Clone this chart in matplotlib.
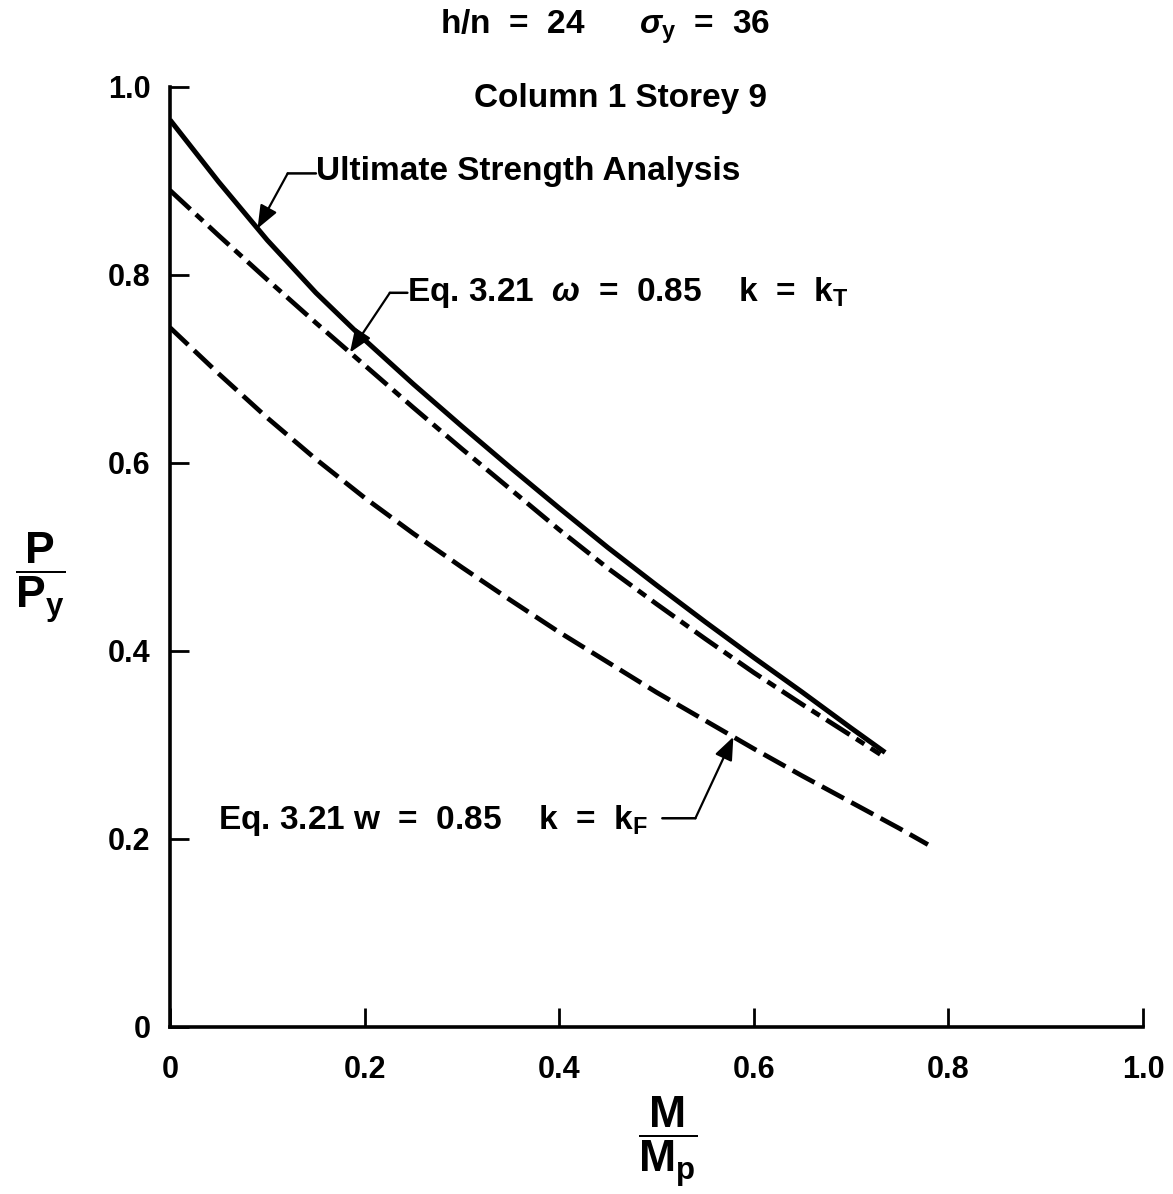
import numpy as np
import matplotlib
matplotlib.use("Agg")
import matplotlib.pyplot as plt

# Interaction curves: axial load ratio P/Py against moment ratio M/Mp
ultimate_x = [0.0, 0.05, 0.1, 0.15, 0.2, 0.25, 0.3, 0.35, 0.4, 0.45,
              0.5, 0.55, 0.6, 0.65, 0.7, 0.735]
ultimate_y = [0.965, 0.899, 0.837, 0.781, 0.731, 0.684, 0.639, 0.595, 0.552,
              0.510, 0.470, 0.431, 0.393, 0.356, 0.318, 0.292]

eq_kt_x = [0.0, 0.05, 0.1, 0.15, 0.2, 0.25, 0.3, 0.35, 0.4, 0.45,
           0.5, 0.55, 0.6, 0.65, 0.7, 0.73]
eq_kt_y = [0.890, 0.842, 0.795, 0.749, 0.704, 0.659, 0.615, 0.572, 0.529,
           0.488, 0.450, 0.413, 0.377, 0.343, 0.310, 0.290]

eq_kf_x = [0.0, 0.05, 0.1, 0.15, 0.2, 0.25, 0.3, 0.35, 0.4, 0.45,
           0.5, 0.55, 0.6, 0.65, 0.7, 0.75, 0.779]
eq_kf_y = [0.744, 0.695, 0.648, 0.604, 0.563, 0.525, 0.489, 0.454, 0.420,
           0.388, 0.356, 0.326, 0.296, 0.267, 0.239, 0.211, 0.194]

x_ticks = [0, 0.2, 0.4, 0.6, 0.8, 1.0]
x_tick_labels = ["0", "0.2", "0.4", "0.6", "0.8", "1.0"]
y_ticks = [0, 0.2, 0.4, 0.6, 0.8, 1.0]
y_tick_labels = ["0", "0.2", "0.4", "0.6", "0.8", "1.0"]

plt.rcParams["font.family"] = ["Liberation Sans", "DejaVu Sans"]
plt.rcParams["font.weight"] = "bold"
plt.rcParams["mathtext.fontset"] = "custom"
plt.rcParams["mathtext.rm"] = "Liberation Sans:bold"
plt.rcParams["mathtext.it"] = "Liberation Sans:italic:bold"
plt.rcParams["mathtext.bf"] = "Liberation Sans:bold"
plt.rcParams["lines.scale_dashes"] = False

fig = plt.figure(figsize=(11.73, 11.94), dpi=100)
ax = fig.add_axes([0.1449, 0.1399, 0.8295, 0.7873])
ax.set_xlim(0, 1.0)
ax.set_ylim(0, 1.0)

ink = "black"
ax.plot(ultimate_x, ultimate_y, color=ink, lw=3.6, solid_capstyle="butt",
        solid_joinstyle="round")
ax.plot(eq_kt_x, eq_kt_y, color=ink, lw=3.4,
        linestyle=(0, (20, 5.5, 7, 5.5)), dash_capstyle="butt")
ax.plot(eq_kf_x, eq_kf_y, color=ink, lw=3.4,
        linestyle=(0, (18, 6)), dash_capstyle="butt")

# Axes frame: only left and bottom lines, inward ticks
for side in ("top", "right"):
    ax.spines[side].set_visible(False)
for side in ("left", "bottom"):
    ax.spines[side].set_linewidth(2.6)
ax.set_xticks(x_ticks)
ax.set_xticklabels(x_tick_labels)
ax.set_yticks(y_ticks)
ax.set_yticklabels(y_tick_labels)
ax.tick_params(direction="in", length=14, width=2.0, labelsize=22)
ax.tick_params(axis="x", pad=20)
ax.tick_params(axis="y", pad=14)
ax.set_facecolor("white")

# Labels with leader lines and arrows
fs = 24
arrow = dict(arrowstyle="-|>,head_length=0.7,head_width=0.28",
             color=ink, lw=1.6, mutation_scale=20, shrinkA=0, shrinkB=0)
leader = dict(arrowstyle="-", color=ink, lw=1.8, shrinkA=0, shrinkB=0)


def pointer(text, text_xy, elbow_xy, tip_x, curve_x, curve_y):
    tip = (tip_x, float(np.interp(tip_x, curve_x, curve_y)))
    ax.text(text_xy[0], text_xy[1], text, fontsize=fs, ha="left", va="center")
    ax.annotate("", xy=elbow_xy, xytext=(text_xy[0], elbow_xy[1]),
                arrowprops=leader)
    ax.annotate("", xy=tip, xytext=elbow_xy, arrowprops=arrow)


pointer("Ultimate Strength Analysis", (0.150, 0.910), (0.121, 0.908),
        0.090, ultimate_x, ultimate_y)

pointer(r"Eq. 3.21  $\omega$  =  0.85    k  =  k$_{\mathrm{T}}$",
        (0.244, 0.781), (0.226, 0.781), 0.185, eq_kt_x, eq_kt_y)

ax.text(0.049, 0.220, r"Eq. 3.21 w  =  0.85    k  =  k$_{\mathrm{F}}$",
        fontsize=fs, ha="left", va="center")
ax.annotate("", xy=(0.540, 0.222), xytext=(0.506, 0.222), arrowprops=leader)
kf_tip = (0.579, float(np.interp(0.579, eq_kf_x, eq_kf_y)))
ax.annotate("", xy=kf_tip, xytext=(0.540, 0.222), arrowprops=arrow)

# Header lines
fig.text(605 / 1173, 1 - 27 / 1194,
         r"h/n  =  24      $\sigma_{\mathrm{y}}$  =  36",
         fontsize=fs, ha="center", va="center")
fig.text(621 / 1173, 1 - 98 / 1194, "Column 1 Storey 9",
         fontsize=fs, ha="center", va="center")

# Axis labels as stacked fractions
fig.text(40 / 1173, 1 - 578 / 1194,
         r"$\dfrac{\mathrm{P}}{\mathrm{P_y}}$",
         fontsize=32, ha="center", va="center")
fig.text(668 / 1173, 1 - 1142 / 1194,
         r"$\dfrac{\mathrm{M}}{\mathrm{M_p}}$",
         fontsize=32, ha="center", va="center")

fig.savefig("out.png", dpi=100, facecolor="white")
